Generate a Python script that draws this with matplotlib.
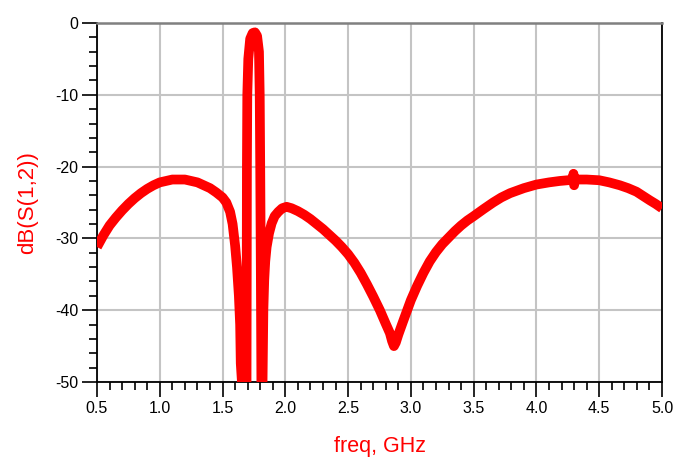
import matplotlib
matplotlib.use('Agg')
import matplotlib.pyplot as plt
from matplotlib.ticker import MultipleLocator

# frequency (GHz) and dB(S(1,2))
freq = [0.50, 0.55, 0.60, 0.65, 0.70, 0.75, 0.80, 0.85, 0.90, 0.95,
        1.00, 1.05, 1.10, 1.15, 1.20, 1.25, 1.30, 1.35, 1.40, 1.45,
        1.50, 1.53, 1.56, 1.58, 1.60, 1.615, 1.63, 1.64, 1.645, 1.69,
        1.692, 1.694, 1.697, 1.705, 1.72, 1.74, 1.758, 1.775, 1.79, 1.796,
        1.80, 1.805, 1.812, 1.825, 1.832, 1.84, 1.851, 1.87, 1.891, 1.915,
        1.944, 1.975, 2.01, 2.05, 2.10, 2.15, 2.20, 2.25, 2.30, 2.35,
        2.40, 2.45, 2.50, 2.55, 2.60, 2.65, 2.70, 2.753, 2.80, 2.833,
        2.85, 2.865, 2.88, 2.90, 2.939, 3.00, 3.05, 3.10, 3.15, 3.20,
        3.25, 3.30, 3.35, 3.40, 3.45, 3.50, 3.58, 3.655, 3.72, 3.79,
        3.90, 4.00, 4.10, 4.186, 4.25, 4.29, 4.295, 4.30, 4.305, 4.40,
        4.50, 4.58, 4.664, 4.73, 4.797, 4.85, 4.903, 4.95, 5.00]
s12_db = [-31.2, -29.6, -28.2, -27.1, -26.1, -25.2, -24.4, -23.7, -23.1, -22.6,
          -22.2, -22.0, -21.8, -21.8, -21.8, -22.0, -22.2, -22.6, -23.0, -23.6,
          -24.3, -25.0, -26.3, -28.0, -31.0, -34.0, -38.0, -42.0, -47.4, -60.0,
          -40.0, -20.0, -10.0, -5.0, -2.2, -1.4, -1.3, -1.8, -4.0, -10.0,
          -20.0, -35.0, -60.0, -40.0, -35.8, -33.2, -31.2, -29.3, -27.9, -26.9,
          -26.3, -25.8, -25.6, -25.8, -26.2, -26.7, -27.3, -28.0, -28.7, -29.5,
          -30.3, -31.2, -32.2, -33.4, -34.8, -36.4, -38.1, -40.0, -41.9, -43.2,
          -44.3, -45.0, -44.5, -43.4, -41.5, -38.6, -36.6, -34.8, -33.2, -31.9,
          -30.8, -29.9, -29.0, -28.2, -27.5, -26.9, -25.9, -25.0, -24.3, -23.7,
          -23.0, -22.5, -22.2, -22.0, -21.9, -21.8, -21.0, -22.6, -21.8, -21.8,
          -21.9, -22.2, -22.6, -23.0, -23.5, -24.1, -24.7, -25.2, -25.8]

x_ticks = [0.5, 1.0, 1.5, 2.0, 2.5, 3.0, 3.5, 4.0, 4.5, 5.0]
y_ticks = [-50, -40, -30, -20, -10, 0]

plt.rcParams['font.family'] = ['Liberation Sans', 'DejaVu Sans']
plt.rcParams['axes.unicode_minus'] = False

fig = plt.figure(figsize=(6.92, 4.63), dpi=100)
ax = fig.add_axes([97 / 692, 1 - 382 / 463, 565 / 692, 359 / 463])

ax.plot(freq, s12_db, color='#ff0000', lw=7, solid_joinstyle='round',
        solid_capstyle='butt', zorder=3)

ax.set_xlim(0.5, 5.0)
ax.set_ylim(-50, 0)
ax.set_xticks(x_ticks)
ax.set_xticklabels(['%.1f' % t for t in x_ticks])
ax.set_yticks(y_ticks)
ax.xaxis.set_minor_locator(MultipleLocator(0.1))
ax.yaxis.set_minor_locator(MultipleLocator(2))

ax.grid(True, which='major', color='#c4c4c4', lw=1.5, zorder=0)
ax.set_axisbelow(True)

ax.tick_params(which='major', direction='out', length=11, width=1.2,
               labelsize=11.5, pad=2.5, color='black')
ax.tick_params(which='minor', direction='out', length=5.5, width=1.2, color='black')

for side in ['left', 'bottom', 'right']:
    ax.spines[side].set_color('black')
    ax.spines[side].set_linewidth(1.3)
ax.spines['top'].set_color('#808080')
ax.spines['top'].set_linewidth(1.8)

ax.set_xlabel('freq, GHz', color='#ff0000', fontsize=15.5)
ax.set_ylabel('dB(S(1,2))', color='#ff0000', fontsize=16)
ax.xaxis.set_label_coords(0.501, -0.15)
ax.yaxis.set_label_coords(-0.104, 0.5)

fig.savefig('out.png', dpi=100)
